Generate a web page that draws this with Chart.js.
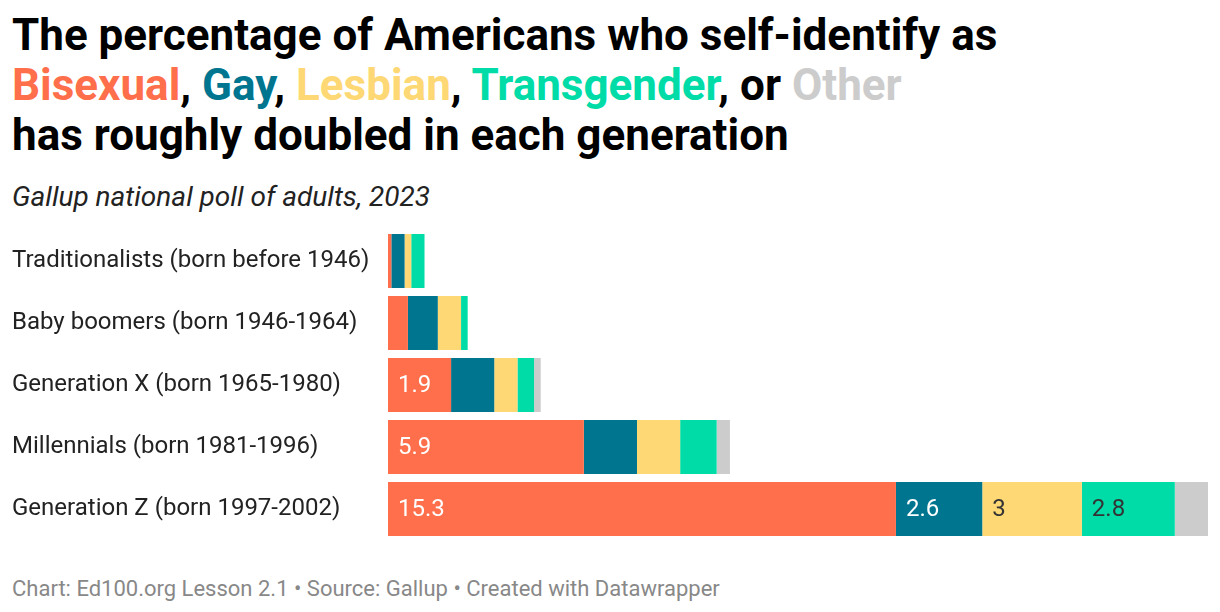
<!DOCTYPE html>
<html>
<head>
<meta charset="utf-8">
<script src="https://cdn.jsdelivr.net/npm/chart.js@4"></script>
<style>
  body { margin: 0; background: #fff; font-family: Roboto, sans-serif; }
  #wrap { position: relative; width: 1220px; height: 612px; overflow: hidden; }
  #titulo { position: absolute; left: 12px; top: 10px; font-size: 44px; font-weight: 700; line-height: 50px; color: #000; white-space: nowrap; }
  #subtitulo { position: absolute; left: 12px; top: 180px; font-size: 28px; font-style: italic; line-height: 34px; color: #222; white-space: nowrap; }
  #pie { position: absolute; left: 12px; top: 576px; font-size: 22px; line-height: 26px; color: #888; white-space: nowrap; }
  #lienzo { position: absolute; left: 0; top: 218px; width: 1220px; height: 334px; }
</style>
</head>
<body>
<div id="wrap">
  <div id="titulo">
    The percentage of Americans who self-identify as<br>
    <span style="color:#ff6f4b">Bisexual</span>, <span style="color:#00758f">Gay</span>, <span style="color:#fdd875">Lesbian</span>, <span style="color:#00dca8">Transgender</span>, or <span style="color:#cccccc">Other</span><br>
    has roughly doubled in each generation
  </div>
  <div id="subtitulo">Gallup national poll of adults, 2023</div>
  <div id="lienzo"><canvas id="grafica"></canvas></div>
  <div id="pie">Chart: Ed100.org Lesson 2.1 • Source: Gallup • Created with Datawrapper</div>
</div>
<script>
const generaciones = [
    "Traditionalists (born before 1946)",
    "Baby boomers (born 1946-1964)",
    "Generation X (born 1965-1980)",
    "Millennials (born 1981-1996)",
    "Generation Z (born 1997-2002)"
]

const bisexual = [0.1, 0.6, 1.9, 5.9, 15.3]
const gay = [0.4, 0.9, 1.3, 1.6, 2.6]
const lesbiana = [0.2, 0.7, 0.7, 1.3, 3]
const transgenero = [0.4, 0.2, 0.5, 1.1, 2.8]
const otro = [0, 0, 0.2, 0.4, 1.0]

const series = [
    { nombre: "Bisexual", datos: bisexual, color: "#ff6f4b", texto: "#ffffff" },
    { nombre: "Gay", datos: gay, color: "#00758f", texto: "#ffffff" },
    { nombre: "Lesbian", datos: lesbiana, color: "#fdd875", texto: "#333333" },
    { nombre: "Transgender", datos: transgenero, color: "#00dca8", texto: "#333333" },
    { nombre: "Other", datos: otro, color: "#cccccc", texto: "#333333" }
]

// etiquetas dentro de las barras, solo si caben
const etiquetas = {
    id: "etiquetas",
    afterDatasetsDraw(chart) {
        const ctx = chart.ctx
        ctx.save()
        ctx.font = "24px Roboto"
        ctx.textBaseline = "middle"
        ctx.textAlign = "left"
        chart.data.datasets.forEach((ds, i) => {
            const meta = chart.getDatasetMeta(i)
            meta.data.forEach((barra, j) => {
                const v = ds.data[j]
                if (v < 1.8) return
                ctx.fillStyle = series[i].texto
                ctx.fillText(String(v), barra.base + 10, barra.y + 1)
            })
        })
        ctx.restore()
    }
}

const total = bisexual[4] + gay[4] + lesbiana[4] + transgenero[4] + otro[4]

new Chart(document.getElementById("grafica"), {
    type: "bar",
    data: {
        labels: generaciones,
        datasets: series.map(s => ({
            label: s.nombre,
            data: s.datos,
            backgroundColor: s.color,
            borderWidth: 0,
            barPercentage: 0.871,
            categoryPercentage: 1
        }))
    },
    options: {
        indexAxis: "y",
        responsive: true,
        maintainAspectRatio: false,
        animation: false,
        layout: { padding: { left: 12, right: 12, top: 0, bottom: 0 } },
        plugins: {
            legend: { display: false },
            tooltip: { enabled: false }
        },
        scales: {
            x: { stacked: true, display: false, min: 0, max: total },
            y: {
                stacked: true,
                grid: { display: false },
                border: { display: false },
                ticks: {
                    crossAlign: "far",
                    color: "#222",
                    font: { family: "Roboto", size: 24, lineHeight: 1 },
                    padding: 0
                },
                afterFit(scale) { scale.width = 376 }
            }
        }
    },
    plugins: [etiquetas]
})
</script>
</body>
</html>
